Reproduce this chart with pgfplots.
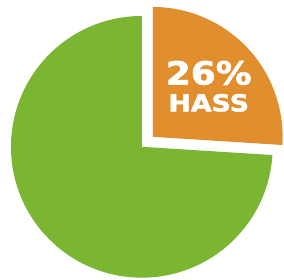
\documentclass[border=0pt]{standalone}
\usepackage{pgfplots}
\pgfplotsset{compat=1.18}
\usepackage{fontspec}
\setmainfont{DejaVu Sans}
\newfontfamily\heavy{DejaVu Sans Bold}[FakeBold=1.8]
\definecolor{pgreen}{RGB}{122,182,50}
\definecolor{porange}{RGB}{224,142,46}
\begin{document}
\begin{tikzpicture}
% data: other 74 %, HASS 26 %
\def\vOther{74}
\def\vHass{26}
\pgfmathsetmacro\aHass{90-3.6*\vHass}
\pgfmathsetmacro\aGreenEnd{360+\aHass}
\begin{axis}[x=1pt,y=1pt,xmin=0,xmax=284,ymin=0,ymax=280,
  hide axis, clip=false, scale only axis]
\path (axis cs:0,0) rectangle (axis cs:284,280);
\fill[pgreen] (axis cs:142,133) -- (axis cs:142,264)
  arc[start angle=90, end angle=\aGreenEnd, radius=131pt] -- cycle;
\fill[porange] (axis cs:153,143) -- (axis cs:153,273)
  arc[start angle=90, end angle=\aHass, radius=130pt] -- cycle;
\node[text=white, font=\heavy\fontsize{32}{32}\selectfont, xscale=1.12, inner sep=0pt]
  at (axis cs:209,207) {26\%};
\node[text=white, font=\heavy\fontsize{23.5}{23.5}\selectfont, xscale=1.14, inner sep=0pt]
  at (axis cs:209,177) {HASS};
\end{axis}
\end{tikzpicture}
\end{document}
